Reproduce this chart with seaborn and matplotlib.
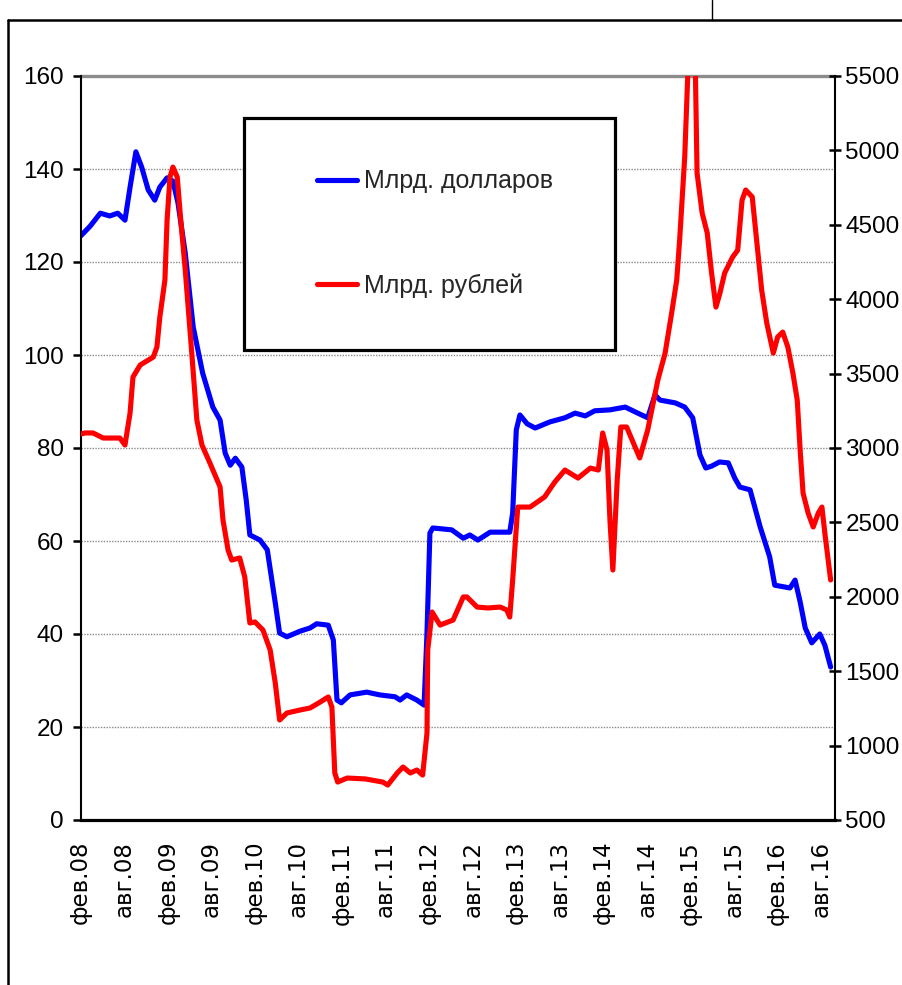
import matplotlib
matplotlib.use("Agg")
import matplotlib.pyplot as plt
from matplotlib import font_manager
from matplotlib.lines import Line2D
from matplotlib.patches import Rectangle
import pandas as pd
import seaborn as sns

# Time axis: months counted from February 2008
usd_t = [0.0, 1.3, 2.7, 4.0, 5.1, 6.1, 6.8, 7.6, 8.4, 9.3, 10.2, 10.9, 11.9, 12.7, 13.4,
         14.4, 15.5, 16.8, 18.2, 19.2, 19.9, 20.6, 21.3, 22.2, 22.8, 23.3, 24.7, 25.7, 26.8,
         27.4, 28.4, 30.2, 31.6, 32.5, 34.1, 34.8, 35.3, 35.9, 37.1, 39.4, 41.2, 43.3, 44.0,
         44.9, 46.3, 47.3, 47.7, 48.1, 48.5, 51.1, 52.7, 53.6, 54.7, 56.4, 59.1, 59.5, 60.0,
         60.5, 61.5, 62.6, 64.6, 66.7, 68.1, 69.5, 70.8, 72.9, 75.0, 77.0, 78.1, 79.1, 79.8,
         81.9, 83.2, 84.3, 85.3, 86.1, 86.9, 88.0, 89.2, 90.1, 90.8, 92.2, 93.6, 94.9, 95.6,
         97.7, 98.4, 99.1, 99.8, 100.7, 101.8, 102.5, 103.3]
usd_bn = [125.6, 127.7, 130.5, 129.9, 130.5, 129.0, 136.1, 143.7, 140.4, 135.5, 133.3, 136.1,
          138.1, 137.4, 132.7, 121.9, 106.0, 96.1, 88.8, 86.0, 78.9, 76.3, 77.8, 75.9, 68.8,
          61.3, 60.2, 58.1, 46.7, 40.2, 39.4, 40.6, 41.3, 42.2, 41.9, 38.7, 25.8, 25.2, 26.9,
          27.5, 26.9, 26.5, 25.8, 26.9, 25.8, 24.7, 40.2, 61.7, 62.8, 62.4, 60.6, 61.3, 60.2,
          61.9, 61.9, 66.0, 83.9, 87.1, 85.2, 84.3, 85.6, 86.5, 87.5, 86.9, 88.0, 88.2, 88.8,
          87.3, 86.5, 91.4, 90.3, 89.7, 88.8, 86.5, 78.5, 75.7, 76.1, 77.0, 76.8, 73.5, 71.6,
          71.0, 63.0, 56.6, 50.5, 49.9, 51.6, 46.9, 41.3, 38.1, 40.0, 37.6, 32.9]

rub_t = [0.0, 0.6, 1.7, 3.1, 5.4, 6.1, 6.8, 7.2, 8.2, 10.0, 10.5, 10.9, 11.6, 11.9, 12.3,
         12.7, 13.3, 13.7, 14.4, 15.3, 16.0, 16.7, 17.8, 19.2, 19.6, 20.3, 20.8, 21.9, 22.6,
         23.3, 24.0, 25.1, 26.1, 26.8, 27.4, 28.4, 30.2, 31.6, 33.0, 34.1, 34.6, 35.0, 35.4,
         36.7, 39.2, 41.6, 42.3, 43.6, 44.4, 45.4, 46.3, 47.1, 47.7, 47.8, 48.4, 49.5, 51.3,
         52.7, 53.2, 54.6, 56.1, 57.8, 58.7, 59.1, 59.5, 60.2, 61.9, 63.9, 65.3, 66.7, 68.5,
         70.2, 71.3, 71.9, 72.5, 72.9, 73.3, 73.9, 74.4, 75.2, 77.0, 78.1, 79.5, 80.5, 81.4,
         82.1, 82.5, 83.2, 83.8, 84.2, 84.6, 84.9, 85.6, 86.3, 86.9, 87.5, 88.05, 88.7, 89.8,
         90.5, 91.1, 91.6, 92.5, 93.2, 93.8, 94.5, 95.4, 96.0, 96.7, 97.4, 98.1, 98.7, 99.1,
         99.5, 100.2, 100.9, 101.6, 102.1, 102.5, 103.3]
rub_bn = [3094, 3101, 3101, 3067, 3067, 3020, 3235, 3477, 3558, 3611, 3679, 3880, 4129, 4532,
          4821, 4888, 4821, 4579, 4196, 3638, 3188, 3020, 2899, 2738, 2516, 2314, 2247, 2261,
          2133, 1824, 1831, 1777, 1642, 1421, 1172, 1219, 1239, 1253, 1293, 1327, 1259, 816,
          755, 782, 776, 755, 735, 816, 856, 816, 836, 802, 1085, 1642, 1898, 1810, 1844, 1999,
          1999, 1931, 1925, 1931, 1911, 1864, 2113, 2603, 2603, 2671, 2771, 2852, 2798, 2865,
          2852, 3101, 2986, 2516, 2180, 2785, 3141, 3141, 2933, 3121, 3457, 3638, 3907, 4129,
          4398, 4955, 5742, 5876, 5742, 4848, 4579, 4445, 4176, 3947, 4041, 4176, 4283, 4330,
          4666, 4734, 4687, 4351, 4062, 3840, 3638, 3746, 3779, 3679, 3504, 3322, 2986, 2697,
          2563, 2469, 2563, 2603, 2429, 2113]

month_ticks = list(range(0, 103, 6))
month_labels = ["фев.08", "авг.08", "фев.09", "авг.09", "фев.10", "авг.10", "фев.11",
                "авг.11", "фев.12", "авг.12", "фев.13", "авг.13", "фев.14", "авг.14",
                "фев.15", "авг.15", "фев.16", "авг.16"]
left_ticks = list(range(0, 161, 20))
right_ticks = list(range(500, 5501, 500))
series_names = ["Млрд. долларов", "Млрд. рублей"]
series_colors = ["#0000FF", "#FF0000"]

sns.set_style("white")
installed = {f.name for f in font_manager.fontManager.ttflist}
narrow = "Liberation Sans Narrow" if "Liberation Sans Narrow" in installed else "Liberation Sans"
num_size = 20 if narrow == "Liberation Sans Narrow" else 17.5
leg_size = 20 if narrow == "Liberation Sans Narrow" else 18
plt.rcParams["font.family"] = ["Liberation Sans", "DejaVu Sans"]

W, H = 903, 985
fig = plt.figure(figsize=(W / 100, H / 100), dpi=100)
x0, x1, ytop, ybot = 80.7, 835.0, 76.0, 820.0
ax = fig.add_axes([x0 / W, 1 - ybot / H, (x1 - x0) / W, (ybot - ytop) / H])
ax2 = ax.twinx()

usd = pd.DataFrame({"t": usd_t, "v": usd_bn})
rub = pd.DataFrame({"t": rub_t, "v": rub_bn})
line_kw = dict(linewidth=3.7, solid_capstyle="round", solid_joinstyle="round", estimator=None)
sns.lineplot(data=usd, x="t", y="v", ax=ax, color=series_colors[0], **line_kw)
sns.lineplot(data=rub, x="t", y="v", ax=ax2, color=series_colors[1], **line_kw)

ax.set_xlim(0, 103.9)
ax.set_ylim(0, 160)
ax2.set_ylim(500, 5500)
for a in (ax, ax2):
    a.set_xlabel("")
    a.set_ylabel("")

# horizontal grid tied to the left scale
ax.set_axisbelow(True)
ax.grid(axis="y", color="#8a8a8a", linewidth=1.0, linestyle=(0, (1, 1)))
ax.grid(axis="x", visible=False)
ax.axhline(160, color="#8c8c8c", linewidth=2.4, clip_on=False, zorder=1)

ax.set_xticks(month_ticks)
ax.set_xticklabels(month_labels, rotation=90, fontsize=16.5, family=["DejaVu Sans"])
ax.set_yticks(left_ticks)
ax.set_yticklabels([str(v) for v in left_ticks], fontsize=num_size, family=[narrow, "DejaVu Sans"])
ax2.set_yticks(right_ticks)
ax2.set_yticklabels([str(v) for v in right_ticks], fontsize=num_size, family=[narrow, "DejaVu Sans"])

ax.tick_params(axis="x", direction="out", length=7, width=1.5, pad=8, colors="black")
ax.tick_params(axis="y", direction="out", length=6, width=1.8, pad=6, colors="black", right=False)
ax2.tick_params(axis="y", direction="inout", length=9, width=1.8, pad=3, colors="black")

for s in ("top", "right"):
    ax.spines[s].set_visible(False)
for s in ("top", "left", "bottom"):
    ax2.spines[s].set_visible(False)
ax.spines["left"].set_linewidth(1.5)
ax.spines["left"].set_color("black")
ax.spines["bottom"].set_linewidth(2.3)
ax.spines["bottom"].set_color("black")
ax2.spines["right"].set_linewidth(1.5)
ax2.spines["right"].set_color("black")

# legend panel
bx0, bx1, by0, by1 = 244, 615, 118, 350
ax2.add_patch(Rectangle(((bx0 - x0) / (x1 - x0), (ybot - by1) / (ybot - ytop)),
                        (bx1 - bx0) / (x1 - x0), (by1 - by0) / (ybot - ytop),
                        transform=ax2.transAxes, facecolor="white", edgecolor="black",
                        linewidth=2.3, zorder=5, clip_on=False))
handles = [Line2D([], [], color=c, linewidth=3.7) for c in series_colors]
leg = ax2.legend(handles, series_names, loc="center left", frameon=False,
                 bbox_to_anchor=((317 - x0) / (x1 - x0), (ybot - 233.5) / (ybot - ytop)),
                 borderpad=0, borderaxespad=0, handlelength=1.6, handletextpad=0.3,
                 labelspacing=3.2, prop={"family": [narrow, "DejaVu Sans"], "size": leg_size})
leg.set_zorder(6)

# outer frame
ftop = 20
fig.add_artist(Line2D([8 / W, 8 / W], [0, 1 - ftop / H], transform=fig.transFigure,
                      color="black", linewidth=1.8))
fig.add_artist(Line2D([8 / W, 1], [1 - ftop / H, 1 - ftop / H], transform=fig.transFigure,
                      color="black", linewidth=1.8))
fig.add_artist(Line2D([712 / W, 712 / W], [1 - ftop / H, 1], transform=fig.transFigure,
                      color="black", linewidth=1.0))

fig.savefig("out.png", dpi=100)
